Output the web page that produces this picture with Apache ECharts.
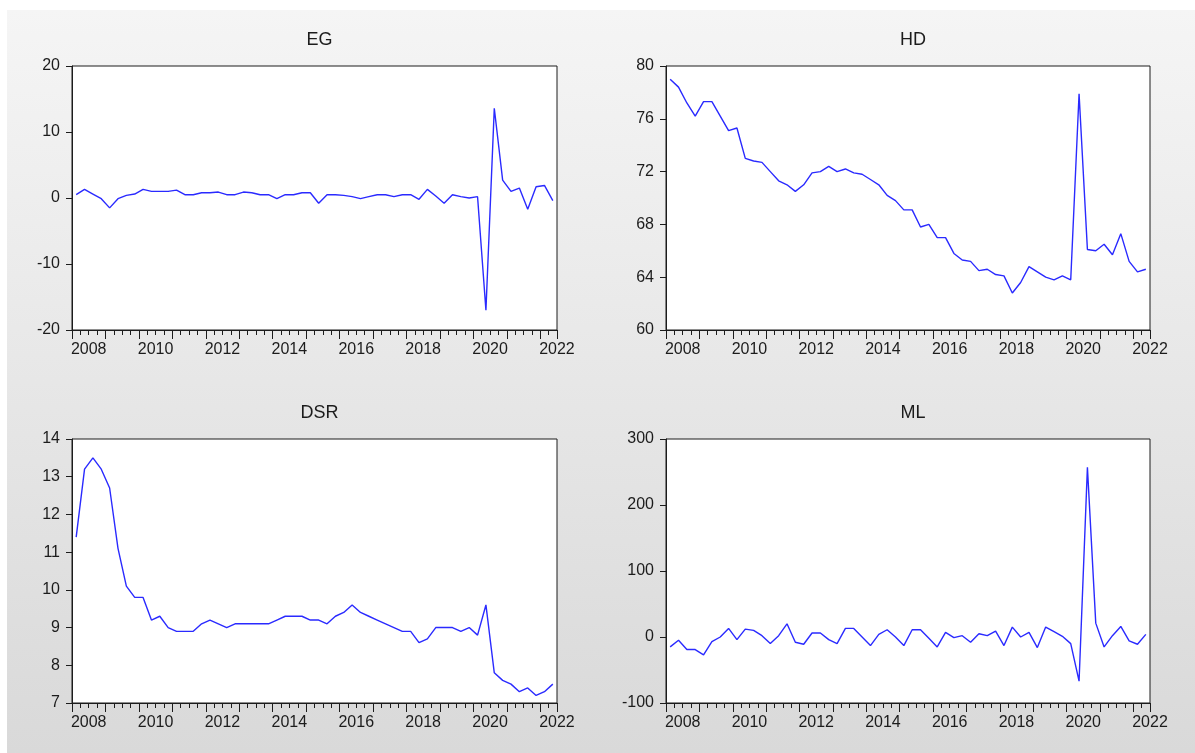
<!DOCTYPE html>
<html>
<head>
<meta charset="utf-8">
<title>EG, HD, DSR, ML</title>
<script src="https://cdn.jsdelivr.net/npm/echarts@6/dist/echarts.min.js"></script>
<style>
  html, body { margin: 0; padding: 0; background: #ffffff; }
  #chart { width: 1195px; height: 753px; }
</style>
</head>
<body>
<div id="chart"></div>
<script>
// Quarterly observations, 2008Q1 .. 2022Q2
const firstYear = 2008;
const lastYear = 2022;
const quarters = [];
for (let y = firstYear; y <= lastYear; y++) {
  for (let q = 1; q <= 4; q++) {
    if (y === lastYear && q > 2) break;
    quarters.push(y + 'Q' + q);
  }
}

const EG = [0.5, 1.3, 0.6, -0.1, -1.5, -0.1, 0.4, 0.6, 1.3, 1.0,
            1.0, 1.0, 1.2, 0.5, 0.5, 0.8, 0.8, 0.9, 0.5, 0.5,
            0.9, 0.8, 0.5, 0.5, -0.1, 0.5, 0.5, 0.8, 0.8, -0.8,
            0.5, 0.5, 0.4, 0.2, -0.1, 0.2, 0.5, 0.5, 0.2, 0.5,
            0.5, -0.2, 1.3, 0.3, -0.8, 0.5, 0.2, 0.0, 0.2, -17.0,
            13.6, 2.7, 1.0, 1.5, -1.7, 1.7, 1.9, -0.4];

const HD = [79.0, 78.4, 77.2, 76.2, 77.3, 77.3, 76.2, 75.1, 75.3, 73.0,
            72.8, 72.7, 72.0, 71.3, 71.0, 70.5, 71.0, 71.9, 72.0, 72.4,
            72.0, 72.2, 71.9, 71.8, 71.4, 71.0, 70.2, 69.8, 69.1, 69.1,
            67.8, 68.0, 67.0, 67.0, 65.8, 65.3, 65.2, 64.5, 64.6, 64.2,
            64.1, 62.8, 63.6, 64.8, 64.4, 64.0, 63.8, 64.1, 63.8, 77.9,
            66.1, 66.0, 66.5, 65.7, 67.3, 65.2, 64.4, 64.6];

const DSR = [11.4, 13.2, 13.5, 13.2, 12.7, 11.1, 10.1, 9.8, 9.8, 9.2,
             9.3, 9.0, 8.9, 8.9, 8.9, 9.1, 9.2, 9.1, 9.0, 9.1,
             9.1, 9.1, 9.1, 9.1, 9.2, 9.3, 9.3, 9.3, 9.2, 9.2,
             9.1, 9.3, 9.4, 9.6, 9.4, 9.3, 9.2, 9.1, 9.0, 8.9,
             8.9, 8.6, 8.7, 9.0, 9.0, 9.0, 8.9, 9.0, 8.8, 9.6,
             7.8, 7.6, 7.5, 7.3, 7.4, 7.2, 7.3, 7.5];

const ML = [-15, -5, -19, -19, -27, -7, 0, 13, -4, 12,
            10, 2, -10, 2, 20, -8, -11, 6, 6, -4,
            -10, 13, 13, 0, -13, 4, 11, 0, -13, 11,
            11, -2, -15, 7, -1, 2, -8, 5, 2, 9,
            -13, 15, 0, 7, -16, 15, 8, 1, -10, -67,
            257, 21, -15, 2, 16, -6, -11, 4];

const panelNames = ['EG', 'HD', 'DSR', 'ML'];
const panelData = [EG, HD, DSR, ML];
const yScales = [
  { min: -20, max: 20, interval: 10 },
  { min: 60, max: 80, interval: 4 },
  { min: 7, max: 14, interval: 1 },
  { min: -100, max: 300, interval: 100 }
];

// Panel rectangles (plot areas) in a 2x2 arrangement
const grids = [
  { left: 72,  top: 66,  width: 485, height: 264 },
  { left: 666, top: 66,  width: 484, height: 264 },
  { left: 72,  top: 439, width: 485, height: 264 },
  { left: 666, top: 439, width: 484, height: 264 }
];

const FONT = "'Liberation Sans', Arial, sans-serif";
const INK = '#1c1c1c';
const LINE = '#2a2aff';

const option = {
  animation: false,
  graphic: [{
    type: 'rect',
    z: -10,
    silent: true,
    shape: { x: 7, y: 10, width: 1188, height: 743 },
    style: {
      fill: {
        type: 'linear', x: 0, y: 0, x2: 0, y2: 1,
        colorStops: [
          { offset: 0, color: '#f5f5f5' },
          { offset: 1, color: '#d9d9d9' }
        ]
      }
    }
  }],
  title: [],
  grid: [],
  xAxis: [],
  yAxis: [],
  series: []
};

panelNames.forEach(function (name, k) {
  const g = grids[k];
  option.title.push({
    text: name,
    left: g.left + g.width / 2,
    top: g.top - 40,
    textAlign: 'center',
    textStyle: { fontFamily: FONT, fontSize: 18, fontWeight: 'normal', color: INK }
  });
  option.grid.push({
    left: g.left, top: g.top, width: g.width, height: g.height,
    show: true, backgroundColor: '#ffffff', borderColor: INK, borderWidth: 1,
    containLabel: false
  });
  // quarterly ticks
  option.xAxis.push({
    type: 'category', gridIndex: k, position: 'bottom', data: quarters,
    boundaryGap: true,
    axisLine: { show: true, onZero: false, lineStyle: { color: INK, width: 1 } },
    axisTick: { show: true, interval: 0, length: 5, lineStyle: { color: INK } },
    axisLabel: { show: false },
    splitLine: { show: false }
  });
  // yearly ticks and labels every two years
  option.xAxis.push({
    type: 'category', gridIndex: k, position: 'bottom', data: quarters,
    boundaryGap: true,
    axisLine: { show: false, onZero: false },
    axisTick: {
      show: true, length: 9, lineStyle: { color: INK },
      interval: function (idx) { return idx % 4 === 0; }
    },
    axisLabel: {
      show: true,
      interval: function (idx) { return idx % 8 === 0; },
      formatter: function (v) { return v.slice(0, 4); },
      fontFamily: FONT, fontSize: 16, color: INK, margin: 12,
      padding: [0, 0, 0, 25]
    },
    splitLine: { show: false }
  });
  const s = yScales[k];
  option.yAxis.push({
    type: 'value', gridIndex: k, position: 'left',
    min: s.min, max: s.max, interval: s.interval,
    axisLine: { show: true, onZero: false, lineStyle: { color: INK, width: 1 } },
    axisTick: { show: true, inside: false, length: 6, lineStyle: { color: INK } },
    axisLabel: { fontFamily: FONT, fontSize: 16, color: INK, margin: 12 },
    splitLine: { show: false }
  });
  option.series.push({
    name: name,
    type: 'line',
    xAxisIndex: 2 * k,
    yAxisIndex: k,
    data: panelData[k],
    showSymbol: false,
    symbol: 'none',
    lineStyle: { color: LINE, width: 1.4 },
    z: 3
  });
});

const chart = echarts.init(document.getElementById('chart'), null, { renderer: 'canvas' });
chart.setOption(option);
</script>
</body>
</html>
